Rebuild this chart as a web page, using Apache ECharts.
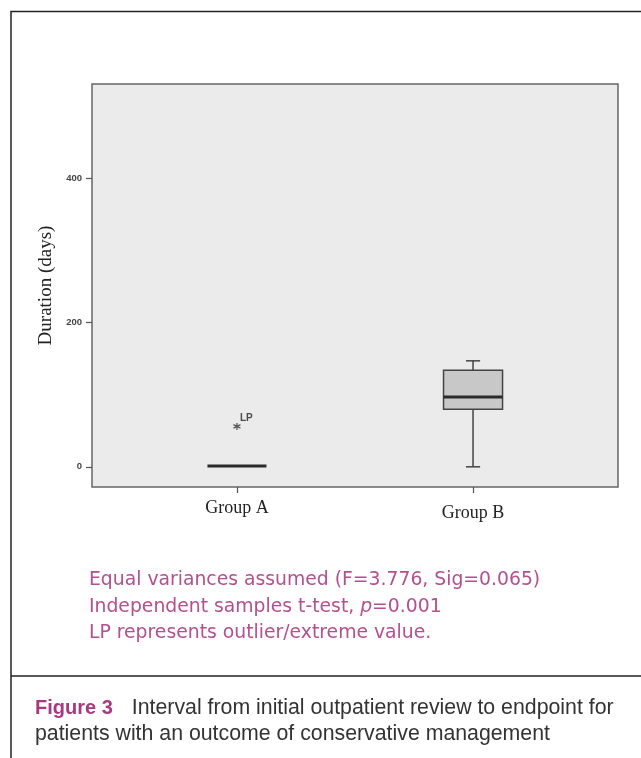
<!DOCTYPE html>
<html>
<head>
<meta charset="utf-8">
<script src="https://cdn.jsdelivr.net/npm/echarts@6/dist/echarts.min.js"></script>
<style>
html,body{margin:0;padding:0;background:#fff;}
#c{width:641px;height:758px;}
</style>
</head>
<body>
<div id="c"></div>
<script>
// ---- data ----
var categories = ['Group A', 'Group B'];
var groupPos = [1, 2];
var lowerWhisker = [1, 0];
var q1 = [1, 80];
var median = [1, 97];
var q3 = [1, 134];
var upperWhisker = [1, 147];
var outlierGroup = [1];
var outlierValue = [56];
var outlierLabel = ['LP'];
var yTicks = [0, 200, 400];
var noteLines = [
  'Equal variances assumed (F=3.776, Sig=0.065)',
  'Independent samples t-test, {i|p}=0.001',
  'LP represents outlier/extreme value.'
];
var captionBold = 'Figure 3';
var captionLines = ['Interval from initial outpatient review to endpoint for',
  'patients with an outcome of conservative management'];

var boxData = categories.map(function (c, i) {
  return [groupPos[i], lowerWhisker[i], q1[i], median[i], q3[i], upperWhisker[i]];
});
var outData = outlierGroup.map(function (g, i) { return [g, outlierValue[i], outlierLabel[i]]; });

var chart = echarts.init(document.getElementById('c'), null, {renderer: 'canvas'});
var pink = '#b4508f';
var option = {
  animation: false,
  backgroundColor: '#fff',
  grid: {
    left: 92, top: 84, right: 23, bottom: 271,
    show: true, backgroundColor: '#ebebeb', borderColor: '#666', borderWidth: 1.5
  },
  xAxis: {
    type: 'value', min: 0.386, max: 2.614,
    axisLine: {show: false, onZero: false},
    splitLine: {show: false},
    axisTick: {show: true, customValues: groupPos, length: 6, inside: false, lineStyle: {color: '#555', width: 1.2}},
    axisLabel: {
      customValues: groupPos, margin: 12,
      fontFamily: 'Liberation Serif', fontSize: 18, color: '#222',
      formatter: function (v) {
        var i = groupPos.indexOf(v);
        return i < 0 ? '' : '{g' + i + '|' + categories[i] + '}';
      },
      rich: {
        g0: {fontFamily: 'Liberation Serif', fontSize: 18, color: '#222', padding: [0, 0, 0, 0]},
        g1: {fontFamily: 'Liberation Serif', fontSize: 18, color: '#222', padding: [5, 0, 0, 0]}
      }
    }
  },
  yAxis: {
    type: 'value', min: -28, max: 531,
    name: 'Duration (days)', nameLocation: 'middle', nameGap: 35,
    nameTextStyle: {fontFamily: 'Liberation Serif', fontSize: 19, color: '#222'},
    axisLine: {show: false, onZero: false},
    splitLine: {show: false},
    axisTick: {show: true, customValues: yTicks, length: 6, lineStyle: {color: '#555', width: 1.2}},
    axisLabel: {customValues: yTicks, margin: 10, fontFamily: 'Liberation Sans', fontWeight: 'bold', fontSize: 9.5, color: '#444'}
  },
  series: [
    {
      type: 'custom',
      data: boxData,
      renderItem: function (params, api) {
        var x = api.value(0);
        var pL = api.coord([x, api.value(1)]);
        var p1 = api.coord([x, api.value(2)]);
        var pM = api.coord([x, api.value(3)]);
        var p3 = api.coord([x, api.value(4)]);
        var pU = api.coord([x, api.value(5)]);
        var half = api.size([0.25, 0])[0] / 2;
        var cap = api.size([0.06, 0])[0] / 2;
        var st = {stroke: '#444', lineWidth: 1.5, fill: 'none'};
        var children = [];
        if (api.value(5) !== api.value(4)) {
          children.push({type: 'line', shape: {x1: pU[0], y1: pU[1], x2: p3[0], y2: p3[1]}, style: st});
          children.push({type: 'line', shape: {x1: pU[0] - cap, y1: pU[1], x2: pU[0] + cap, y2: pU[1]}, style: st});
        }
        if (api.value(1) !== api.value(2)) {
          children.push({type: 'line', shape: {x1: pL[0], y1: pL[1], x2: p1[0], y2: p1[1]}, style: st});
          children.push({type: 'line', shape: {x1: pL[0] - cap, y1: pL[1], x2: pL[0] + cap, y2: pL[1]}, style: st});
        }
        if (api.value(4) !== api.value(2)) {
          children.push({type: 'rect', shape: {x: p3[0] - half, y: p3[1], width: half * 2, height: p1[1] - p3[1]},
            style: {fill: '#c8c8c8', stroke: '#444', lineWidth: 1.5}});
        }
        children.push({type: 'line', shape: {x1: pM[0] - half, y1: pM[1], x2: pM[0] + half, y2: pM[1]},
          style: {stroke: '#2a2a2a', lineWidth: 3}});
        return {type: 'group', children: children};
      }
    },
    {
      type: 'scatter',
      data: outData,
      symbol: 'path://M0,-5L0,5M-4.3,-2.5L4.3,2.5M-4.3,2.5L4.3,-2.5',
      symbolSize: 7,
      itemStyle: {color: 'none', borderColor: '#333', borderWidth: 1.3},
      label: {
        show: true, position: [9, -7],
        formatter: function (p) { return p.value[2]; },
        fontFamily: 'Liberation Sans', fontWeight: 'bold', fontSize: 10, color: '#222'
      }
    }
  ],
  graphic: [
    {type: 'polyline', shape: {points: [[11, 758], [11, 11.5], [641, 11.5]]}, style: {stroke: '#222', lineWidth: 1.5, fill: 'none'}, z: 10},
    {type: 'line', shape: {x1: 11, y1: 676, x2: 641, y2: 676}, style: {stroke: '#222', lineWidth: 1.5}, z: 10},
    {type: 'text', left: 89, top: 567, z: 10,
      style: {
        text: noteLines.join('\n'), lineHeight: 26.5,
        font: '18.8px "DejaVu Sans"', fill: pink,
        rich: {i: {fontStyle: 'italic', fontFamily: 'DejaVu Sans', fontSize: 18.8, fill: pink, lineHeight: 26.5}}
      }},
    {type: 'text', left: 35, top: 695, z: 10,
      style: {
        text: '{b|' + captionBold + '}' + captionLines[0] + '\n' + captionLines[1],
        lineHeight: 26, font: '21.3px "Liberation Sans"', fill: '#333',
        rich: {b: {fontWeight: 'bold', fontFamily: 'Liberation Sans', fontSize: 20, fill: '#a8387f', lineHeight: 26, padding: [0, 19, 0, 0]}}
      }}
  ]
};
chart.setOption(option);
</script>
</body>
</html>
